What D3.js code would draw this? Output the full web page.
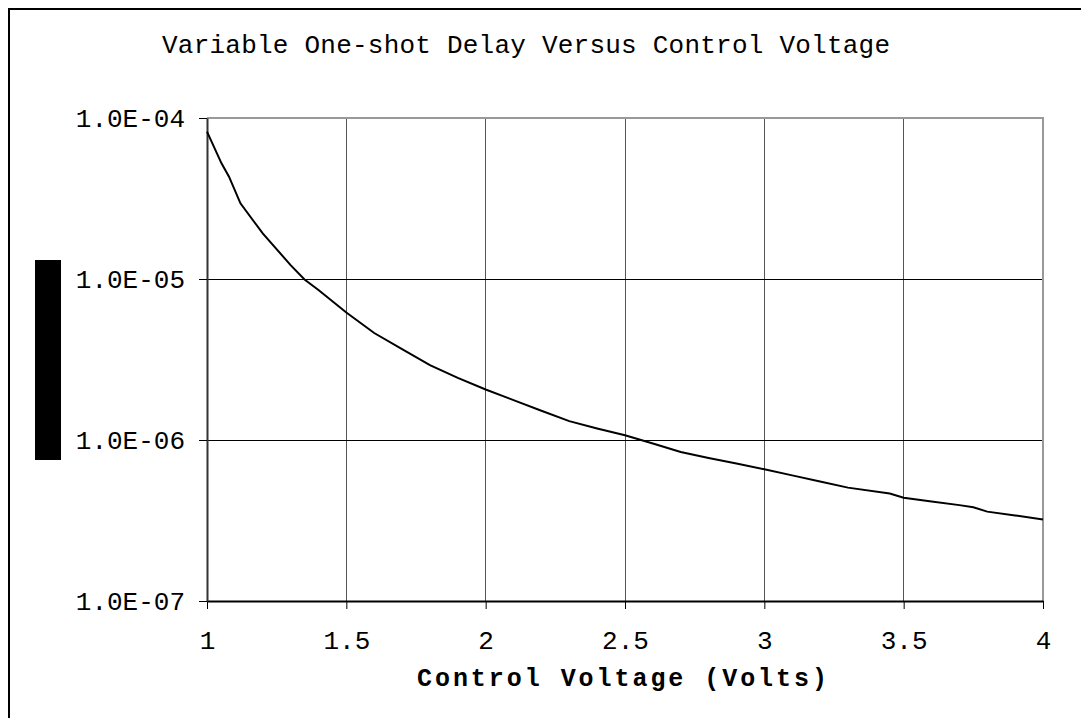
<!DOCTYPE html>
<html><head><meta charset="utf-8">
<script src="https://cdn.jsdelivr.net/npm/d3@7/dist/d3.min.js"></script>
<style>body{margin:0;background:#fff;}svg{display:block;}</style>
</head><body>
<script>
const voltage = [1.0,1.052,1.079,1.12,1.2,1.3,1.35,1.4,1.5,1.6,1.7,1.8,1.9,2.0,2.1,2.2,2.3,2.4,2.5,2.6,2.7,2.8,2.9,3.0,3.1,3.2,3.3,3.45,3.5,3.6,3.7,3.75,3.8,3.9,4.0];
const delay = [8.22e-5,5.23e-5,4.32e-5,2.95e-5,1.92e-5,1.22e-5,9.93e-6,8.55e-6,6.19e-6,4.62e-6,3.67e-6,2.92e-6,2.43e-6,2.06e-6,1.77e-6,1.52e-6,1.31e-6,1.18e-6,1.07e-6,9.52e-7,8.42e-7,7.73e-7,7.15e-7,6.58e-7,6.03e-7,5.52e-7,5.06e-7,4.65e-7,4.38e-7,4.15e-7,3.94e-7,3.82e-7,3.59e-7,3.40e-7,3.21e-7];
const xTicks = [1,1.5,2,2.5,3,3.5,4];
const xTickLabels = ["1","1.5","2","2.5","3","3.5","4"];
const yTicks = [1e-7,1e-6,1e-5,1e-4];
const yTickLabels = ["1.0E-07","1.0E-06","1.0E-05","1.0E-04"];
const titleText = "Variable One-shot Delay Versus Control Voltage";
const xTitle = "Control Voltage (Volts)";
const yTitle = "Delay (Seconds)";

const W = 1081, H = 718;
const L = 207, R = 1043, T = 118, B = 601;
const font = "'Liberation Mono','Courier New',monospace";

const svg = d3.select("body").append("svg").attr("width", W).attr("height", H);
svg.append("rect").attr("width", W).attr("height", H).attr("fill", "#fff");
// outer frame (left & top visible)
svg.append("rect").attr("x", 9).attr("y", 9).attr("width", 1200).attr("height", 1200)
  .attr("fill", "none").attr("stroke", "#000").attr("stroke-width", 2);

const x = d3.scaleLinear().domain([1,4]).range([L,R]);
const y = d3.scaleLog().domain([1e-7,1e-4]).range([B,T]);

// vertical gridlines
svg.append("g").selectAll("line").data(xTicks.slice(1,-1)).join("line")
  .attr("x1", d=>x(d)).attr("x2", d=>x(d)).attr("y1", T).attr("y2", B)
  .attr("stroke", "#555").attr("stroke-width", 1).attr("shape-rendering","crispEdges");
// horizontal gridlines
svg.append("g").selectAll("line").data(yTicks.slice(1,-1)).join("line")
  .attr("x1", L).attr("x2", R).attr("y1", d=>y(d)).attr("y2", d=>y(d))
  .attr("stroke", "#000").attr("stroke-width", 1).attr("shape-rendering","crispEdges");
// top and right border (gray)
svg.append("line").attr("x1", L).attr("x2", R+1).attr("y1", y(1e-4)).attr("y2", y(1e-4))
  .attr("stroke", "#999").attr("stroke-width", 2);
svg.append("line").attr("x1", x(4)).attr("x2", x(4)).attr("y1", T).attr("y2", B)
  .attr("stroke", "#999").attr("stroke-width", 2);

// axes
const xAxis = d3.axisBottom(x).tickValues(xTicks).tickFormat((d,i)=>xTickLabels[i]).tickSize(8).tickSizeOuter(0).tickPadding(22);
const gx = svg.append("g").attr("transform", `translate(0,${B})`).call(xAxis);
gx.select(".domain").attr("stroke", "#000").attr("stroke-width", 2);
gx.selectAll(".tick line").attr("stroke", "#000").attr("stroke-width", 1);
gx.selectAll("text").attr("font-family", font).attr("font-size", 26).attr("fill", "#000");

const yAxis = d3.axisLeft(y).tickValues(yTicks).tickFormat((d,i)=>yTickLabels[i]).tickSize(8).tickSizeOuter(0).tickPadding(14);
const gy = svg.append("g").attr("transform", `translate(${L},0)`).call(yAxis);
gy.select(".domain").attr("stroke", "#333").attr("stroke-width", 2);
gy.selectAll(".tick line").attr("stroke", "#000").attr("stroke-width", 1);
gy.selectAll("text").attr("font-family", font).attr("font-size", 26).attr("fill", "#000");

// curve
const line = d3.line().x((d,i)=>x(voltage[i])).y(d=>y(d));
svg.append("path").datum(delay).attr("d", line).attr("fill", "none")
  .attr("stroke", "#000").attr("stroke-width", 2);

// title
svg.append("text").attr("x", 162).attr("y", 53).attr("font-family", font).attr("font-size", 26)
  .attr("textLength", 728).attr("lengthAdjust", "spacing").text(titleText);
// x title
svg.append("text").attr("x", 417).attr("y", 686).attr("font-family", font).attr("font-size", 25)
  .attr("font-weight", "bold").attr("textLength", 410).attr("lengthAdjust", "spacing").text(xTitle);
// y title (obscured black box)
svg.append("rect").attr("x", 35).attr("y", 260).attr("width", 26).attr("height", 200).attr("fill", "#000");
svg.append("text").attr("transform", "translate(55,455) rotate(-90)").attr("font-family", font)
  .attr("font-size", 24).attr("font-weight", "bold").attr("fill", "#000")
  .attr("textLength", 190).attr("lengthAdjust", "spacing").text(yTitle);
</script>
</body></html>
